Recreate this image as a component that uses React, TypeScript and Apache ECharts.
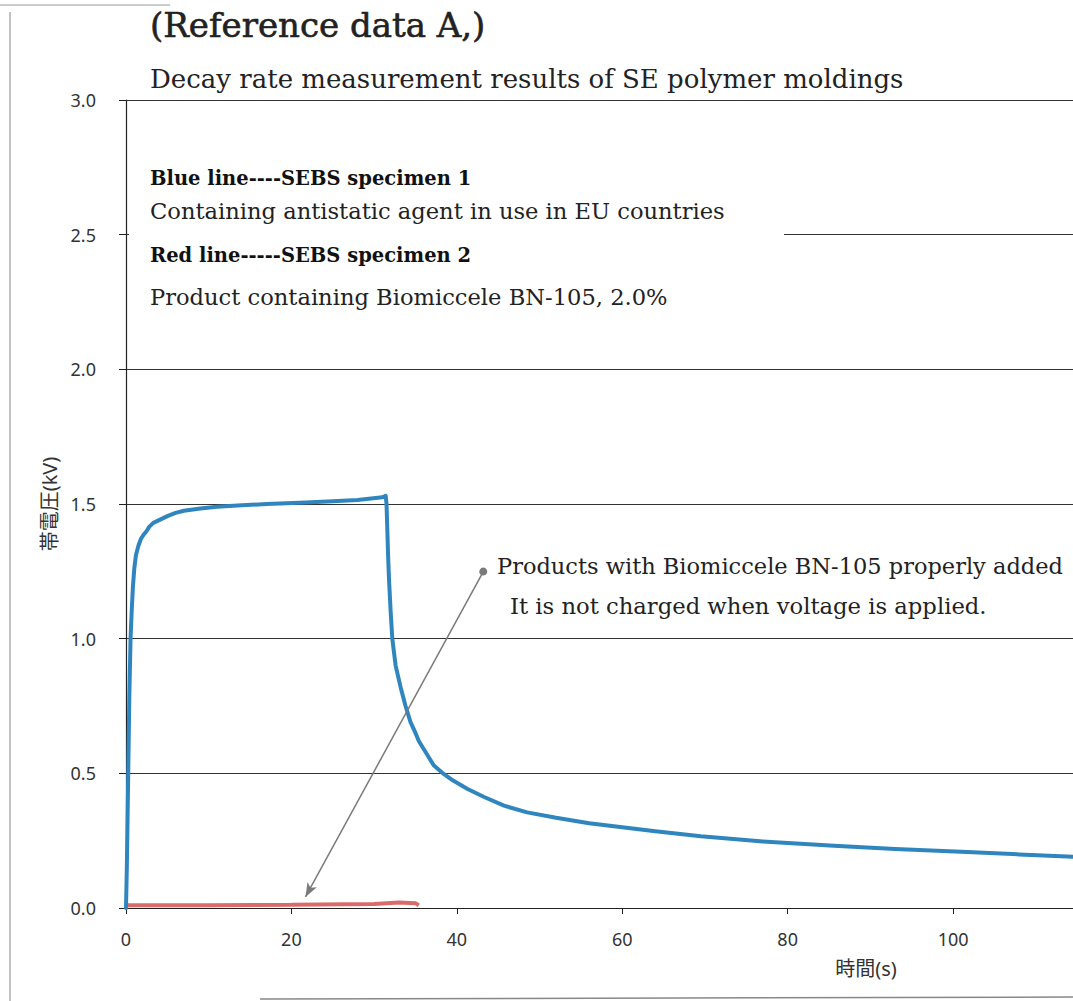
import React, { useEffect, useRef } from "react";
import * as echarts from "echarts";

// Blue line: SEBS specimen 1 [time (s), voltage (kV)]
const blueTime = [0, 0.1, 0.26, 0.4, 0.55, 0.7, 0.83, 1.0, 1.2, 1.5, 1.8, 2.1, 2.5, 2.8, 3.3, 4, 5, 6, 7, 9, 11, 14, 17, 21, 25, 28, 31, 31.4, 31.5, 31.6, 31.7, 31.8, 32.0, 32.2, 32.4, 32.6, 32.9, 33.2, 33.8, 34.4, 35, 35.4, 36.4, 37.2, 38.2, 39.5, 41.3, 43.3, 45.7, 48.5, 52, 56, 60, 64, 69.5, 77, 85.6, 93, 101.7, 108, 114.6];
const blueVolt = [0, 0.15, 0.48, 0.78, 1.0, 1.11, 1.19, 1.26, 1.31, 1.345, 1.37, 1.385, 1.4, 1.415, 1.43, 1.44, 1.455, 1.467, 1.475, 1.483, 1.49, 1.495, 1.5, 1.505, 1.51, 1.515, 1.525, 1.53, 1.5, 1.4, 1.3, 1.22, 1.1, 1.0, 0.95, 0.9, 0.86, 0.82, 0.75, 0.69, 0.65, 0.62, 0.57, 0.53, 0.503, 0.474, 0.442, 0.412, 0.38, 0.355, 0.335, 0.315, 0.3, 0.285, 0.266, 0.247, 0.231, 0.219, 0.208, 0.199, 0.19];

// Red line: SEBS specimen 2
const redTime = [0, 10, 20, 30, 33, 35, 35.4];
const redVolt = [0.01, 0.01, 0.012, 0.015, 0.02, 0.018, 0.01];

// Annotation arrow (from label dot to red line)
const arrowStart = [43.2, 1.249];
const arrowEnd = [21.7, 0.041];

const yTicks = [0, 0.5, 1.0, 1.5, 2.0, 2.5, 3.0];
const xTicks = [0, 20, 40, 60, 80, 100];

const title = "(Reference data A,)";
const subtitle = "Decay rate measurement results of SE polymer moldings";
const legendLines = [
  "Blue line----SEBS specimen 1",
  "Containing antistatic agent in use in EU countries",
  "Red line-----SEBS specimen 2",
  "Product containing Biomiccele BN-105, 2.0%",
];
const noteLines = [
  "Products with Biomiccele BN-105 properly added",
  "It is not charged when voltage is applied.",
];
const xName = "時間(s)";
const yName = "帯電圧(kV)";

const SERIF = "'DejaVu Serif', 'Liberation Serif', serif";
const SANS = "'Noto Sans', 'Noto Sans CJK JP', sans-serif";

export default function App() {
  const ref = useRef<HTMLDivElement>(null);
  useEffect(() => {
    if (!ref.current) return;
    const chart = echarts.init(ref.current, undefined, { renderer: "svg" });
    const blue = blueTime.map((t, i) => [t, blueVolt[i]]);
    const red = redTime.map((t, i) => [t, redVolt[i]]);
    chart.setOption({
      animation: false,
      backgroundColor: "#ffffff",
      grid: { left: 126, top: 100, right: 0, bottom: 93, containLabel: false },
      xAxis: {
        type: "value",
        min: 0,
        max: 114.5,
        interval: 20,
        axisLine: { show: true, lineStyle: { color: "#222", width: 1.2 } },
        axisTick: { show: true, length: 6, lineStyle: { color: "#222" } },
        axisLabel: {
          show: true,
          margin: 22,
          fontSize: 18,
          fontFamily: SANS,
          color: "#333",
          showMaxLabel: false,
          formatter: (v: number) => (xTicks.includes(v) ? String(v) : ""),
        },
        splitLine: { show: false },
      },
      yAxis: {
        type: "value",
        min: 0,
        max: 3,
        interval: 0.5,
        name: yName,
        nameLocation: "middle",
        nameGap: 67,
        nameTextStyle: { fontSize: 20, fontFamily: SANS, color: "#333" },
        axisLine: { show: true, lineStyle: { color: "#222", width: 1.2 } },
        axisTick: { show: true, length: 7, lineStyle: { color: "#222" } },
        axisLabel: {
          margin: 30,
          fontSize: 18,
          fontFamily: SANS,
          color: "#333",
          formatter: (v: number) => (yTicks.includes(v) ? v.toFixed(1) : ""),
        },
        splitLine: { show: true, lineStyle: { color: "#333", width: 1.2 } },
      },
      series: [
        {
          name: "SEBS specimen 2",
          type: "line",
          data: red,
          showSymbol: false,
          symbol: "none",
          lineStyle: { color: "#d96b6b", width: 4 },
          z: 3,
          markLine: {
            silent: true,
            animation: false,
            label: { show: false },
            lineStyle: { color: "#7a7a7a", width: 1.5, type: "solid" },
            symbol: ["circle", "arrow"],
            symbolSize: [8, 14],
            data: [[{ coord: arrowStart }, { coord: arrowEnd }]],
          },
        },
        {
          name: "SEBS specimen 1",
          type: "line",
          data: blue,
          showSymbol: false,
          symbol: "none",
          lineStyle: { color: "#2f86bf", width: 4, join: "round", cap: "round" },
          z: 4,
        },
      ],
      graphic: [
        { type: "line", shape: { x1: 10, y1: 12, x2: 10, y2: 1001 }, style: { stroke: "#999", lineWidth: 1.2 } },
        { type: "line", shape: { x1: 0, y1: 5, x2: 170, y2: 5 }, style: { stroke: "#999", lineWidth: 1.2 } },
        { type: "line", shape: { x1: 260, y1: 999, x2: 1073, y2: 997 }, style: { stroke: "#888", lineWidth: 1.5 } },
        { type: "rect", z: 10, shape: { x: 129, y: 150, width: 655, height: 160 }, style: { fill: "#ffffff" } },
        { type: "text", z: 11, x: 150, y: 25, style: { text: title, font: `normal 34px ${SERIF}`, fill: "#222", stroke: "#222", lineWidth: 0.6, align: "left", verticalAlign: "middle" } },
        { type: "text", z: 11, x: 150, y: 79, style: { text: subtitle, font: `normal 26px ${SERIF}`, fill: "#222", align: "left", verticalAlign: "middle" } },
        { type: "text", z: 11, x: 150, y: 178, style: { text: legendLines[0], font: `bold 19.5px ${SERIF}`, fill: "#111", align: "left", verticalAlign: "middle" } },
        { type: "text", z: 11, x: 150, y: 211, style: { text: legendLines[1], font: `normal 22.6px ${SERIF}`, fill: "#222", align: "left", verticalAlign: "middle" } },
        { type: "text", z: 11, x: 150, y: 255, style: { text: legendLines[2], font: `bold 19.5px ${SERIF}`, fill: "#111", align: "left", verticalAlign: "middle" } },
        { type: "text", z: 11, x: 150, y: 297, style: { text: legendLines[3], font: `normal 22.6px ${SERIF}`, fill: "#222", align: "left", verticalAlign: "middle" } },
        { type: "text", z: 11, x: 497, y: 566, style: { text: noteLines[0], font: `normal 22.5px ${SERIF}`, fill: "#222", align: "left", verticalAlign: "middle" } },
        { type: "text", z: 11, x: 510, y: 606, style: { text: noteLines[1], font: `normal 22.7px ${SERIF}`, fill: "#222", align: "left", verticalAlign: "middle" } },
        { type: "text", z: 11, x: 866, y: 968, style: { text: xName, font: `normal 20px ${SANS}`, fill: "#333", align: "center", verticalAlign: "middle" } },
      ],
    });
    return () => chart.dispose();
  }, []);
  return (
    <div
      ref={ref}
      style={{ position: "fixed", left: 0, top: 0, width: 1073, height: 1001, background: "#fff" }}
    />
  );
}
